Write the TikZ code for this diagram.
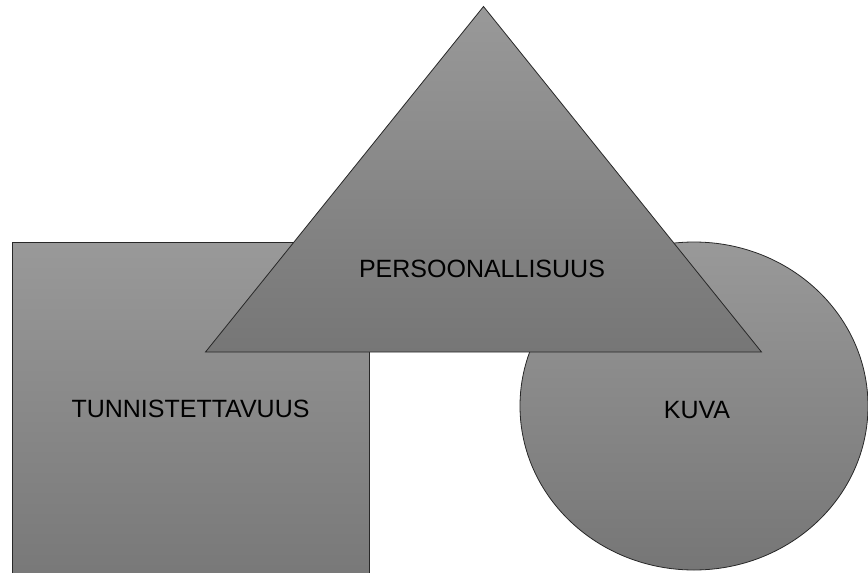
\documentclass[tikz,border=0pt]{standalone}
\usepackage{fontspec}
\setmainfont{Liberation Sans}
\definecolor{shtop}{RGB}{153,153,153}
\definecolor{shbot}{RGB}{118,118,118}
\definecolor{edge}{RGB}{40,40,40}
\tikzset{
  shapefill/.style={draw=edge, line width=0.8pt, top color=shtop, bottom color=shbot},
  lbl/.style={font=\fontsize{25}{29}\selectfont, text=black, inner sep=0pt}
}
\begin{document}
\begin{tikzpicture}[x=1pt,y=-1pt]
\useasboundingbox (0,0) rectangle (868,573);
\clip (0,0) rectangle (868,573);
% square
\path[shapefill] (12.5,242.5) rectangle (369.5,600);
% circle
\path[shapefill] (694,406) ellipse [x radius=174, y radius=164];
% triangle
\path[shapefill] (483.5,6.5) -- (761.5,352) -- (205.5,352) -- cycle;
\node[lbl] (tunn) at (190.5,409) {TUNNISTETTAVUUS};
\node[lbl] (kuva) at (697,410) {KUVA};
\node[lbl] (pers) at (482,268.5) {PERSOONALLISUUS};
\end{tikzpicture}
\end{document}
